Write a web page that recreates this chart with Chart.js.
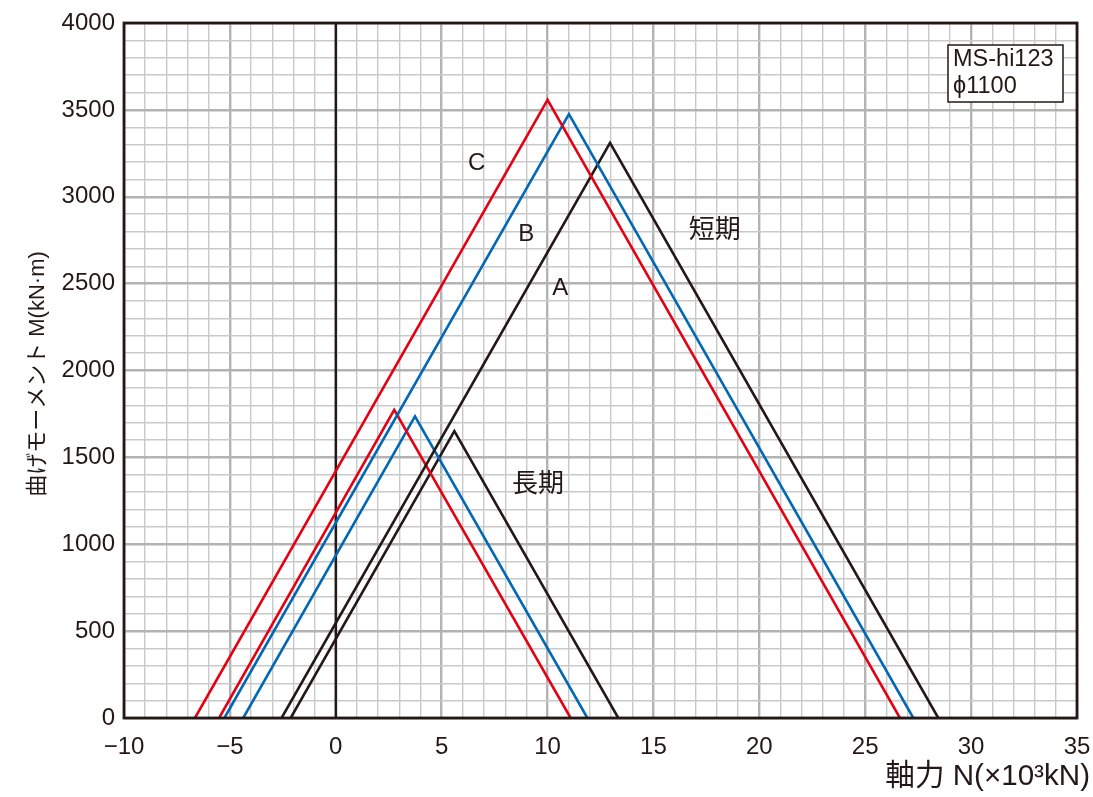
<!DOCTYPE html>
<html>
<head>
<meta charset="utf-8">
<script src="https://cdn.jsdelivr.net/npm/chart.js@4.4.1/dist/chart.umd.min.js"></script>
<style>
html,body{margin:0;padding:0;background:#fff;}
#wrap{width:1093px;height:797px;}
</style>
</head>
<body>
<div id="wrap"><canvas id="c" width="1093" height="797"></canvas></div>
<script>
// ---- data (N in 10^3 kN, M in kN·m) ----
const shortC_N = [-6.65, 10.0, 26.64];
const shortC_M = [0, 3557, 0];
const shortB_N = [-5.26, 11.01, 27.27];
const shortB_M = [0, 3475, 0];
const shortA_N = [-2.56, 12.95, 28.45];
const shortA_M = [0, 3310, 0];
const longC_N = [-5.51, 2.76, 11.09];
const longC_M = [0, 1774, 0];
const longB_N = [-4.37, 3.74, 11.88];
const longB_M = [0, 1736, 0];
const longA_N = [-2.13, 5.6, 13.34];
const longA_M = [0, 1651, 0];

const xTickLabels = [-10, -5, 0, 5, 10, 15, 20, 25, 30, 35];
const yTickLabels = [0, 500, 1000, 1500, 2000, 2500, 3000, 3500, 4000];

const curveLabels = [
  {text: 'C', x: 6.65, y: 3190, size: 24},
  {text: 'B', x: 9.0, y: 2785, size: 24},
  {text: 'A', x: 10.6, y: 2475, size: 24},
  {text: '短期', x: 17.9, y: 2805, size: 26},
  {text: '長期', x: 9.55, y: 1340, size: 26}
];
const boxLines = ['MS-hi123', 'ϕ1100'];

const RED = '#e50012', BLUE = '#0068b7', BLACK = '#231815';
const FONT = "'Liberation Sans', 'Noto Sans CJK JP', sans-serif";

function pts(xs, ys){ return xs.map((x,i)=>({x:x, y:ys[i]})); }
function ds(xs, ys, color){
  return {data: pts(xs, ys), borderColor: color, borderWidth: 2.6, showLine: true,
          pointRadius: 0, fill: false, tension: 0};
}

const overlay = {
  id: 'overlay',
  beforeDatasetsDraw(chart){
    const ctx = chart.ctx, a = chart.chartArea;
    const x0 = chart.scales.x.getPixelForValue(0);
    ctx.save();
    ctx.strokeStyle = BLACK; ctx.lineWidth = 2.4;
    ctx.beginPath(); ctx.moveTo(x0, a.top); ctx.lineTo(x0, a.bottom); ctx.stroke();
    ctx.restore();
  },
  afterDraw(chart){
    const ctx = chart.ctx, a = chart.chartArea;
    const xs = chart.scales.x, ys = chart.scales.y;
    ctx.save();
    // frame
    ctx.strokeStyle = BLACK; ctx.lineWidth = 2.8;
    ctx.strokeRect(a.left, a.top, a.right - a.left, a.bottom - a.top);
    // curve labels
    ctx.fillStyle = BLACK;
    ctx.textAlign = 'center'; ctx.textBaseline = 'middle';
    curveLabels.forEach(l => {
      ctx.font = l.size + 'px ' + FONT;
      ctx.fillText(l.text, xs.getPixelForValue(l.x), ys.getPixelForValue(l.y));
    });
    // box
    const bx = 948, by = 45, bw = 115, bh = 57;
    ctx.fillStyle = '#fff'; ctx.fillRect(bx, by, bw, bh);
    ctx.strokeStyle = BLACK; ctx.lineWidth = 1.5; ctx.strokeRect(bx, by, bw, bh);
    ctx.fillStyle = BLACK; ctx.textAlign = 'left';
    ctx.font = '23.5px ' + FONT;
    ctx.fillText(boxLines[0], bx + 5, by + 15);
    ctx.fillText(boxLines[1], bx + 5, by + 42);
    // x axis title, fitted to the reference width
    const xt = '軸力 N(×10³kN)';
    ctx.font = '24px ' + FONT;
    const w = ctx.measureText(xt).width;
    const fs = Math.min(30, 24 * 205 / w);
    ctx.font = fs.toFixed(1) + 'px ' + FONT;
    ctx.textAlign = 'right';
    ctx.fillText(xt, 1090, 777);
    // y axis title
    ctx.font = '22px ' + FONT;
    ctx.translate(38, 374);
    ctx.rotate(-Math.PI/2);
    ctx.textAlign = 'center';
    ctx.fillText('曲げモーメント M(kN·m)', 0, 0);
    ctx.restore();
  }
};

function isMajor(v, major){ return Math.abs(v % major) < 1e-6; }
function gridColor(ctx, major){ return isMajor(ctx.tick.value, major) ? '#b3b3b3' : '#c9c9c9'; }
function gridWidth(ctx, major){ return isMajor(ctx.tick.value, major) ? 2.4 : 1.4; }
function fmt(v){ return v < 0 ? '−' + Math.abs(v) : String(v); }

new Chart(document.getElementById('c'), {
  type: 'scatter',
  data: {
    datasets: [
      ds(shortC_N, shortC_M, RED), ds(shortB_N, shortB_M, BLUE), ds(shortA_N, shortA_M, BLACK),
      ds(longC_N, longC_M, RED), ds(longB_N, longB_M, BLUE), ds(longA_N, longA_M, BLACK)
    ]
  },
  options: {
    responsive: false,
    animation: false,
    layout: {padding: {left: 0, right: 16, top: 23, bottom: 0}},
    plugins: {legend: {display: false}, tooltip: {enabled: false}},
    scales: {
      x: {
        type: 'linear', min: -10, max: 35,
        afterFit(s){ s.height = 79; s.paddingLeft = 0; s.paddingRight = 0; },
        ticks: {
          stepSize: 1, autoSkip: false, maxRotation: 0, padding: 15,
          color: BLACK, font: {family: FONT, size: 24},
          callback: v => xTickLabels.includes(v) ? fmt(v) : ''
        },
        grid: {color: c => gridColor(c, 5), lineWidth: c => gridWidth(c, 5), drawTicks: false},
        border: {display: false}
      },
      y: {
        type: 'linear', min: 0, max: 4000,
        afterFit(s){ s.width = 124; s.paddingTop = 0; s.paddingBottom = 0; },
        ticks: {
          stepSize: 100, autoSkip: false, padding: 9,
          color: BLACK, font: {family: FONT, size: 24},
          callback: v => yTickLabels.includes(v) ? String(v) : ''
        },
        grid: {color: c => gridColor(c, 500), lineWidth: c => gridWidth(c, 500), drawTicks: false},
        border: {display: false}
      }
    }
  },
  plugins: [overlay]
});
</script>
</body>
</html>
